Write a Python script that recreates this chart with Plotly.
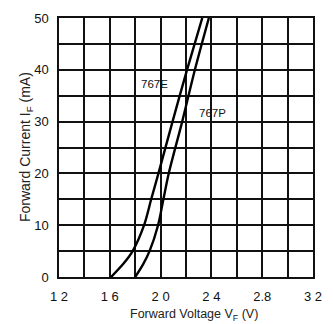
import plotly.graph_objects as go

# Forward current (mA) sample points
current_ma = [0, 2.5, 5, 10, 15, 20, 30, 40, 50]
# Forward voltage (V) for 767E
vf_767e = [1.61, 1.705, 1.78, 1.87, 1.926, 1.983, 2.094, 2.208, 2.328]
# Forward voltage (V) for 767P
vf_767p = [1.80, 1.863, 1.913, 1.98, 2.022, 2.064, 2.17, 2.27, 2.38]

x_tick_vals = [1.2, 1.6, 2.0, 2.4, 2.8, 3.2]
x_tick_text = ["1 2", "1 6", "2 0", "2 4", "2.8", "3 2"]
y_tick_vals = [0, 10, 20, 30, 40, 50]

label_names = ["767E", "767P"]
label_x = [1.955, 2.405]
label_y = [37.3, 31.6]

fig = go.Figure()
for vf in (vf_767e, vf_767p):
    fig.add_trace(go.Scatter(x=vf, y=current_ma, mode="lines",
                             line=dict(color="black", width=2.4, shape="spline", smoothing=0.8),
                             showlegend=False, hoverinfo="skip"))

for name, lx, ly in zip(label_names, label_x, label_y):
    fig.add_annotation(x=lx, y=ly, text=name, showarrow=False,
                       font=dict(size=11.5, color="#111", family="Liberation Sans"))

fig.update_xaxes(range=[1.2, 3.2], tickmode="array", tickvals=x_tick_vals, ticktext=x_tick_text,
                 showgrid=True, gridcolor="#111", gridwidth=1.5,
                 minor=dict(showgrid=True, gridcolor="#111", gridwidth=1.5, tickvals=[1.4, 1.8, 2.2, 2.6, 3.0]),
                 showline=True, linecolor="#111", linewidth=1.5, mirror=True,
                 ticks="", ticklabelstandoff=7, zeroline=False,
                 tickfont=dict(size=13, color="#111", family="Liberation Sans"))
fig.update_yaxes(range=[0, 50], tickmode="array", tickvals=y_tick_vals,
                 showgrid=True, gridcolor="#111", gridwidth=1.5,
                 minor=dict(showgrid=True, gridcolor="#111", gridwidth=1.5, tickvals=[5, 15, 25, 35, 45]),
                 showline=True, linecolor="#111", linewidth=1.5, mirror=True,
                 ticks="", ticklabelstandoff=6, zeroline=False,
                 tickfont=dict(size=13, color="#111", family="Liberation Sans"))

fig.add_annotation(xref="paper", yref="paper", x=0.53, y=-0.108, yanchor="top",
                   text="Forward Voltage V<sub>F</sub> (V)", showarrow=False,
                   font=dict(size=12.5, color="#222", family="Liberation Sans"))
fig.add_annotation(xref="paper", yref="paper", x=-0.175, y=0.5, textangle=-90,
                   text="Forward Current I<sub>F</sub> (mA)", showarrow=False,
                   font=dict(size=14, color="#222", family="Liberation Sans"))

fig.update_layout(width=333, height=324, margin=dict(l=59, r=11, t=13, b=47),
                  plot_bgcolor="white", paper_bgcolor="white")

fig.write_html("out.html")
